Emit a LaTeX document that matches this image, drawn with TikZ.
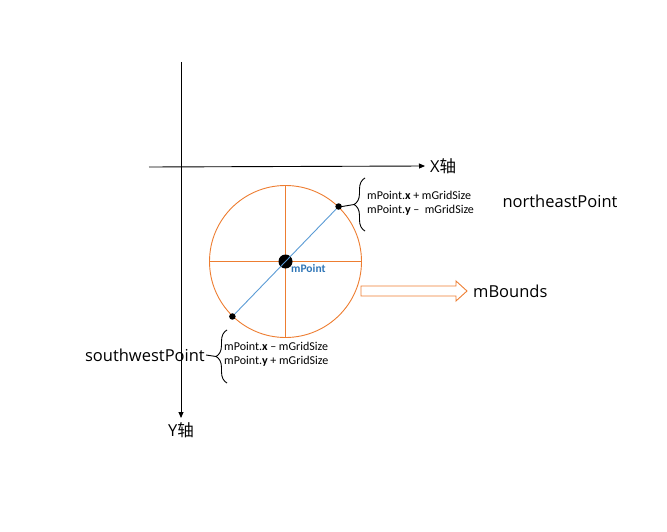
\documentclass[tikz,border=0pt]{standalone}
\usepackage{fontspec}
\setmainfont{Carlito}
\newfontfamily\lblfont{Open Sans}
\newfontfamily\cjk{Noto Sans CJK SC}
\usetikzlibrary{positioning,arrows.meta,decorations.pathreplacing}
\definecolor{bndorange}{RGB}{237,125,49}
\definecolor{diagblue}{RGB}{91,155,213}
\definecolor{ptblue}{RGB}{46,117,182}
\tikzset{
  axis/.style={-{Triangle[length=6pt,width=5pt]},line width=0.9pt},
  axlbl/.style={font=\lblfont\fontsize{16.5}{19}\selectfont,inner sep=1pt},
  bndcirc/.style={circle,draw=bndorange,line width=0.9pt,minimum size=152pt,inner sep=0pt},
  crossline/.style={draw=bndorange,line width=1.6pt},
  diag/.style={draw=diagblue,line width=0.9pt},
  dot/.style={circle,fill=black,inner sep=0pt,minimum size=6.5pt},
  ctrdot/.style={circle,fill=black,inner sep=0pt,minimum size=14pt},
  ptlbl/.style={font=\bfseries\fontsize{11.5}{13}\selectfont,text=ptblue,inner sep=1pt},
  brc/.style={decorate,decoration={brace,amplitude=11pt},line width=0.9pt},
  coordtxt/.style={align=left,font=\fontsize{12}{14}\selectfont,inner sep=0pt},
  namelbl/.style={font=\lblfont\fontsize{16.5}{19}\selectfont,inner sep=1pt},
  hollow/.style={draw=bndorange,line width=0.9pt},
}
\begin{document}
\begin{tikzpicture}[x=1pt,y=-1pt]
  \useasboundingbox (0,0) rectangle (667,532);
  % axes
  \coordinate (yt) at (181,62);
  \coordinate (yb) at (181,418);
  \coordinate (xl) at (149,167);
  \coordinate (xr) at (425,166);
  \draw[axis] (yt) -- (yb);
  \draw[axis] (xl) -- (xr);
  \node[axlbl,right=4pt of xr] (xlab) {X{\cjk 轴}};
  \node[axlbl,below=3pt of yb] (ylab) {Y{\cjk 轴}};
  % bounds circle
  \node[bndcirc] (c) at (285.5,261.5) {};
  \path[crossline] (c.west) -- (c.east) (c.north) -- (c.south);
  \node[ctrdot] (ctr) at (c.center) {};
  \node[dot] (ne) at (c.46) {};
  \node[dot] (sw) at (c.226) {};
  \draw[diag] (sw) -- (ne);
  \node[ptlbl,anchor=west] (mp) at (290,269) {mPoint};
  % northeast corner
  \draw[brc] (365,231) -- (365,178);
  \coordinate (netip) at (354,204.5);
  \draw[line width=0.9pt] (ne.east) -- (netip);
  \node[coordtxt,anchor=west] (netxt) at (367,203)
    {mPoint.\textbf{x} + mGridSize\\mPoint.\textbf{y} --\ \ mGridSize};
  \node[namelbl] (nelab) at (560,201) {northeastPoint};
  % southwest corner
  \draw[brc] (227,383) -- (227,330);
  \coordinate (swtip) at (216,356.5);
  \node[namelbl,anchor=east] (swlab) at (206,355) {southwestPoint};
  \draw[line width=0.9pt] (swlab.east) -- (swtip);
  \node[coordtxt,anchor=west] (swtxt) at (224,354.5)
    {mPoint.\textbf{x} -- mGridSize\\mPoint.\textbf{y} + mGridSize};
  % bounds arrow
  \draw[hollow] (361,286) -- (456,286) -- (456,281) -- (467,291)
    -- (456,301) -- (456,296) -- (361,296) -- cycle;
  \coordinate (arrtip) at (467,291);
  \node[namelbl,right=5pt of arrtip] (mb) {mBounds};
\end{tikzpicture}
\end{document}
